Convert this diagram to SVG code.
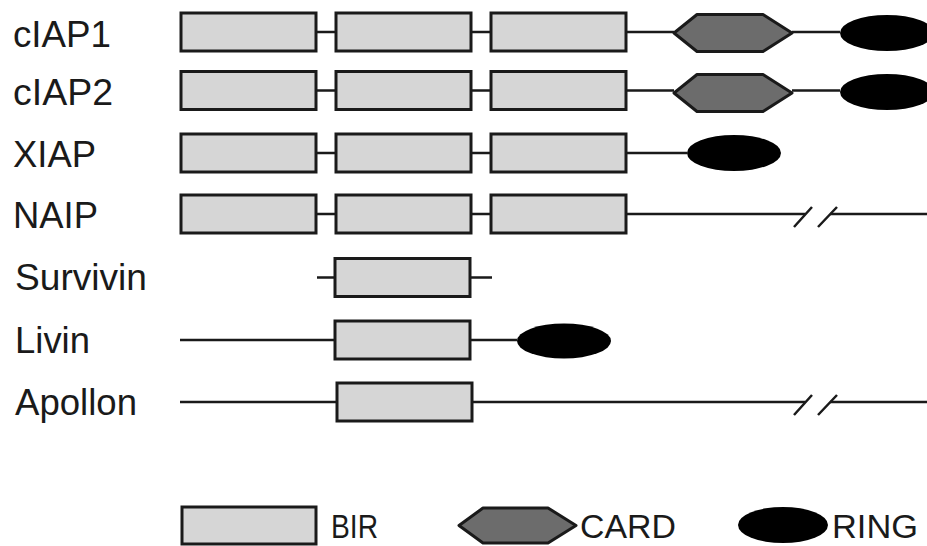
<svg xmlns="http://www.w3.org/2000/svg" width="927" height="546" viewBox="0 0 927 546">
  <style>
    .lbl { font-family: "Liberation Sans", Arial, sans-serif; font-size: 37px; fill: #1a1a1a; }
    .leg { font-family: "Liberation Sans", Arial, sans-serif; font-size: 34px; fill: #1a1a1a; }
    .bir { fill: #d6d6d6; stroke: #1a1a1a; stroke-width: 3; }
    .card { fill: #6c6c6c; stroke: #1a1a1a; stroke-width: 3; stroke-linejoin: round; }
    .ring { fill: #000; }
    .ln { stroke: #1a1a1a; stroke-width: 2.5; fill: none; }
  </style>
  <defs>
    <rect id="box" class="bir" x="0" y="-19" width="135" height="38"/>
    <polygon id="hex" class="card" points="0,0 23,-18.5 89,-18.5 118,0 89,18.5 23,18.5"/>
    <path id="brk" class="ln" d="M0,13 L18,-7 M24,13 L43,-7"/>
  </defs>
  <rect width="927" height="546" fill="#fff"/>

  <!-- backbone lines between domains -->
  <g id="connectors">
    <path class="ln" d="M316,32 H336 M471,32 H491 M626,32 H674 M792,32 H840"/>
    <path class="ln" d="M316,90.5 H336 M471,90.5 H491 M626,90.5 H674 M792,90.5 H840"/>
    <path class="ln" d="M316,153 H336 M471,153 H491 M626,153 H687"/>
    <path class="ln" d="M316,214 H336 M471,214 H491 M626,214 H805 M830,214 H927"/>
    <use href="#brk" x="794" y="214"/>
    <path class="ln" d="M317,277.5 H335 M471,277.5 H492"/>
    <path class="ln" d="M180,340 H335 M471,340 H517"/>
    <path class="ln" d="M180,402 H337 M472,402 H805 M830,402 H927"/>
    <use href="#brk" x="794" y="402"/>
  </g>

  <g id="cIAP1">
    <text class="lbl" x="13" y="47" textLength="98" lengthAdjust="spacingAndGlyphs">cIAP1</text>
    <use href="#box" x="181" y="32"/>
    <use href="#box" x="336" y="32"/>
    <use href="#box" x="491" y="32"/>
    <use href="#hex" x="674" y="33"/>
    <ellipse class="ring" cx="887" cy="33" rx="47" ry="18"/>
  </g>

  <g id="cIAP2">
    <text class="lbl" x="13" y="105" textLength="100" lengthAdjust="spacingAndGlyphs">cIAP2</text>
    <use href="#box" x="181" y="90.5"/>
    <use href="#box" x="336" y="90.5"/>
    <use href="#box" x="491" y="90.5"/>
    <use href="#hex" x="674" y="93"/>
    <ellipse class="ring" cx="887" cy="92" rx="47" ry="18"/>
  </g>

  <g id="XIAP">
    <text class="lbl" x="13" y="167" textLength="83" lengthAdjust="spacingAndGlyphs">XIAP</text>
    <use href="#box" x="181" y="153"/>
    <use href="#box" x="336" y="153"/>
    <use href="#box" x="491" y="153"/>
    <ellipse class="ring" cx="734" cy="153" rx="47" ry="18"/>
  </g>

  <g id="NAIP">
    <text class="lbl" x="13" y="228" textLength="85" lengthAdjust="spacingAndGlyphs">NAIP</text>
    <use href="#box" x="181" y="214"/>
    <use href="#box" x="336" y="214"/>
    <use href="#box" x="491" y="214"/>
  </g>

  <g id="Survivin">
    <text class="lbl" x="15" y="290" textLength="132" lengthAdjust="spacingAndGlyphs">Survivin</text>
    <use href="#box" x="335" y="277.5"/>
  </g>

  <g id="Livin">
    <text class="lbl" x="15" y="353" textLength="75" lengthAdjust="spacingAndGlyphs">Livin</text>
    <use href="#box" x="335" y="340"/>
    <ellipse class="ring" cx="564" cy="341" rx="47" ry="17.5"/>
  </g>

  <g id="Apollon">
    <text class="lbl" x="15" y="415" textLength="122" lengthAdjust="spacingAndGlyphs">Apollon</text>
    <use href="#box" x="337" y="402"/>
  </g>

  <!-- legend -->
  <g id="legend-BIR">
    <rect class="bir" x="182" y="507" width="134" height="37"/>
    <text class="leg" x="331" y="538" textLength="47" lengthAdjust="spacingAndGlyphs">BIR</text>
  </g>
  <g id="legend-CARD">
    <polygon class="card" points="459,525.5 483,508 548,508 576,525.5 548,543 483,543"/>
    <text class="leg" x="580" y="538" textLength="96" lengthAdjust="spacingAndGlyphs">CARD</text>
  </g>
  <g id="legend-RING">
    <ellipse class="ring" cx="783" cy="525" rx="45" ry="18"/>
    <text class="leg" x="832" y="538" textLength="86" lengthAdjust="spacingAndGlyphs">RING</text>
  </g>
</svg>
